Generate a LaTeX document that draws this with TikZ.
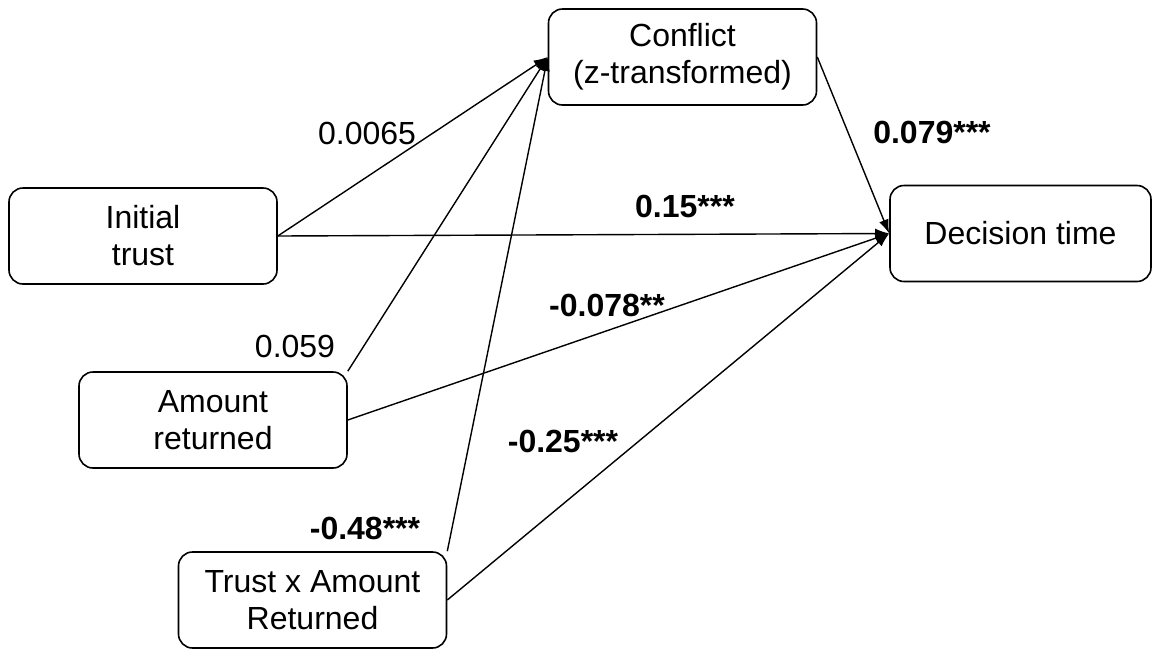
\documentclass[tikz,border=0pt]{standalone}
\usepackage{fontspec}
\setmainfont{Liberation Sans}
\usetikzlibrary{
  arrows.meta,%
  calc
}
\tikzset{>={Latex[length=7pt, width=5pt]}}
\tikzset{font=\fontsize{16}{18.5}\selectfont}
\tikzset{var/.style={draw, line width=0.8pt, rounded corners=7pt,
    minimum width=134pt, minimum height=48pt, align=center, inner sep=2pt},
  path/.style={->, line width=0.7pt},
  coef/.style={inner sep=0pt}}

\begin{document}
\begin{tikzpicture}[x=0.5pt, y=-0.5pt]
  \useasboundingbox (0,0) rectangle (1152,649); %
  % variables
  \node[var] (conflict) at (682.5,57) {Conflict\\(z-transformed)}; %
  \node[var] (trust) at (143,236) {Initial\\trust}; %
  \node[var, minimum width=130.5pt] (dtime) at (1020.5,233.5) {Decision time}; %
  \node[var] (amount) at (213,420) {Amount\\returned}; %
  \node[var] (inter) at (312.5,600) {Trust x Amount\\Returned}; %
  % paths to conflict
  \draw[path] (trust.east) -- (conflict.west); %
  \draw[path] (amount.north east) -- (conflict.west); %
  \draw[path] (inter.north east) -- (conflict.west); %
  % paths to decision time
  \draw[path] (conflict.east) -- (dtime.west); %
  \draw[path] (trust.east) -- (dtime.west); %
  \draw[path] (amount.east) -- (dtime.west); %
  \draw[path] (inter.east) -- (dtime.west); %
  % coefficients
  \node[coef] (c-trust) at (367,133) {0.0065}; %
  \node[coef] (c-amount) at (295,346) {0.059}; %
  \node[coef] (c-inter) at (365,528) {\bfseries -0.48***}; %
  \node[coef] (c-conflict) at (932,132) {\bfseries 0.079***}; %
  \node[coef] (d-trust) at (685,206) {\bfseries 0.15***}; %
  \node[coef] (d-amount) at (607,305) {\bfseries -0.078**}; %
  \node[coef] (d-inter) at (563,441) {\bfseries -0.25***}; %
\end{tikzpicture}
\end{document}
